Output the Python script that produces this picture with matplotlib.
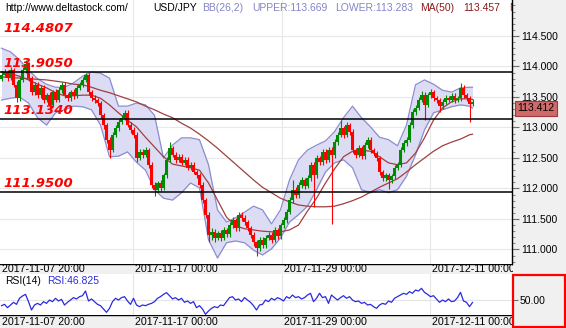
import numpy as np
import matplotlib.pyplot as plt
from matplotlib.patches import Rectangle

plt.rcParams['font.family'] = ['Liberation Sans', 'DejaVu Sans']

# USD/JPY candles, one value per candle (open = previous close)
first_open = 113.80
closes = [113.86, 113.91, 113.81, 113.94, 113.70, 113.48, 113.78, 113.94, 114.04, 113.81,
          113.58, 113.70, 113.53, 113.65, 113.45, 113.53, 113.37, 113.58, 113.45, 113.61,
          113.70, 113.53, 113.48, 113.58, 113.52, 113.65, 113.70, 113.78, 113.86, 113.58,
          113.48, 113.45, 113.40, 113.20, 113.04, 112.80, 112.63, 112.88, 112.99, 113.09,
          113.16, 113.24, 113.04, 112.96, 112.88, 112.50, 112.60, 112.55, 112.63, 112.39,
          112.06, 111.98, 112.09, 112.01, 112.22, 112.47, 112.66, 112.55, 112.47, 112.52,
          112.42, 112.47, 112.34, 112.39, 112.27, 112.22, 112.06, 111.81, 111.57, 111.24,
          111.29, 111.19, 111.27, 111.19, 111.32, 111.25, 111.40, 111.48, 111.35, 111.57,
          111.52, 111.45, 111.35, 111.24, 111.12, 111.02, 111.16, 111.07, 111.19, 111.24,
          111.16, 111.32, 111.22, 111.40, 111.48, 111.62, 111.81, 111.98, 111.89, 112.06,
          112.14, 112.04, 112.17, 112.39, 112.22, 112.50, 112.43, 112.60, 112.47, 112.63,
          112.55, 112.76, 112.88, 112.99, 112.88, 113.04, 112.93, 112.63, 112.55, 112.66,
          112.53, 112.71, 112.80, 112.63, 112.58, 112.50, 112.27, 112.17, 112.22, 112.14,
          112.20, 112.34, 112.39, 112.63, 112.75, 112.80, 113.04, 113.25, 113.32, 113.45,
          113.53, 113.37, 113.53, 113.58, 113.48, 113.45, 113.35, 113.42, 113.48, 113.45,
          113.52, 113.45, 113.48, 113.65, 113.53, 113.48, 113.39, 113.42]
highs = [113.92, 113.96, 113.95, 113.99, 113.98, 113.76, 113.83, 113.99, 114.10, 114.07,
         113.85, 113.74, 113.75, 113.69, 113.70, 113.57, 113.58, 113.62, 113.63, 113.66,
         113.75, 113.74, 113.57, 113.62, 113.63, 113.69, 113.75, 113.82, 113.90, 113.89,
         113.62, 113.53, 113.49, 113.44, 113.24, 113.08, 112.84, 112.92, 113.04, 113.14,
         113.21, 113.28, 113.28, 113.09, 113.00, 112.92, 112.65, 112.64, 112.68, 112.67,
         112.43, 112.10, 112.13, 112.14, 112.26, 112.51, 112.76, 112.70, 112.59, 112.56,
         112.56, 112.51, 112.52, 112.43, 112.43, 112.31, 112.26, 112.10, 111.85, 111.61,
         111.36, 111.33, 111.31, 111.32, 111.37, 111.36, 111.45, 111.54, 111.52, 111.62,
         111.62, 111.56, 111.49, 111.39, 111.28, 111.16, 111.21, 111.20, 111.23, 111.29,
         111.28, 111.37, 111.36, 111.44, 111.53, 111.67, 111.86, 112.14, 112.03, 112.11,
         112.19, 112.18, 112.22, 112.44, 112.43, 112.55, 112.54, 112.65, 112.64, 112.68,
         112.68, 112.81, 112.93, 113.12, 113.03, 113.09, 113.08, 112.97, 112.67, 112.71,
         112.70, 112.76, 112.85, 112.84, 112.67, 112.62, 112.54, 112.31, 112.26, 112.26,
         112.24, 112.38, 112.44, 112.68, 112.80, 112.85, 113.09, 113.30, 113.37, 113.50,
         113.60, 113.58, 113.57, 113.63, 113.62, 113.52, 113.49, 113.46, 113.53, 113.52,
         113.56, 113.57, 113.52, 113.73, 113.69, 113.57, 113.52, 113.46]
lows = [113.76, 113.82, 113.76, 113.78, 113.66, 113.42, 113.44, 113.74, 113.90, 113.77,
        113.54, 113.54, 113.49, 113.49, 113.40, 113.41, 113.30, 113.33, 113.41, 113.42,
        113.57, 113.49, 113.44, 113.44, 113.47, 113.48, 113.61, 113.66, 113.74, 113.54,
        113.43, 113.40, 113.35, 113.15, 112.98, 112.74, 112.50, 112.59, 112.84, 112.94,
        113.05, 113.12, 113.00, 112.91, 112.83, 112.44, 112.46, 112.50, 112.51, 112.33,
        112.00, 111.88, 111.94, 111.96, 111.97, 112.18, 112.43, 112.51, 112.42, 112.43,
        112.38, 112.38, 112.30, 112.30, 112.23, 112.17, 112.01, 111.76, 111.52, 111.12,
        111.16, 111.12, 111.15, 111.14, 111.15, 111.20, 111.21, 111.36, 111.30, 111.31,
        111.47, 111.40, 111.30, 111.19, 111.06, 110.89, 110.97, 111.02, 111.03, 111.15,
        111.11, 111.12, 111.17, 111.18, 111.36, 111.44, 111.58, 111.77, 111.84, 111.85,
        112.01, 111.99, 112.00, 112.13, 111.70, 112.18, 112.38, 112.39, 112.42, 112.43,
        111.41, 112.50, 112.72, 112.84, 112.83, 112.84, 112.88, 112.58, 112.50, 112.51,
        112.48, 112.49, 112.66, 112.58, 112.53, 112.45, 112.22, 112.12, 112.13, 111.99,
        112.09, 112.16, 112.30, 112.35, 112.59, 112.70, 112.76, 112.99, 113.20, 113.28,
        113.41, 113.12, 113.33, 113.49, 113.44, 113.40, 113.25, 113.31, 113.38, 113.41,
        113.41, 113.40, 113.41, 113.44, 113.49, 113.44, 113.09, 113.36]

# indicator lines, sampled every third candle
band_idx = list(range(0, 157, 3)) + [157]
bb_upper = [114.30, 114.24, 114.11, 113.94, 113.80, 113.71, 113.66, 113.66, 113.73, 113.84,
            113.91, 113.89, 113.81, 113.35, 113.35, 113.40, 113.37, 113.20, 112.50, 112.71,
            112.83, 112.83, 112.80, 112.39, 111.65, 111.45, 111.52, 111.61, 111.71, 111.65,
            111.42, 111.65, 112.14, 112.47, 112.63, 112.71, 112.78, 112.93, 113.16, 113.35,
            113.16, 113.01, 112.84, 112.80, 112.70, 113.04, 113.70, 113.78, 113.71, 113.61,
            113.58, 113.65, 113.66, 113.66]
bb_lower = [113.45, 113.48, 113.50, 113.40, 113.16, 113.04, 113.24, 113.29, 113.35, 113.34,
            113.29, 113.04, 112.52, 112.53, 112.60, 112.43, 112.30, 111.98, 111.84, 111.81,
            111.93, 112.09, 112.01, 111.16, 110.86, 111.11, 111.14, 111.11, 110.99, 110.91,
            111.01, 111.19, 111.45, 111.57, 111.71, 111.98, 112.27, 112.42, 112.47, 112.34,
            111.98, 111.93, 111.98, 111.93, 111.98, 112.20, 112.55, 112.96, 113.24, 113.29,
            113.34, 113.37, 113.35, 113.32]
ma50 = [113.91, 113.88, 113.84, 113.78, 113.71, 113.65, 113.57, 113.52, 113.52, 113.53,
        113.53, 113.48, 113.37, 113.24, 113.12, 113.01, 112.84, 112.68, 112.52, 112.40,
        112.37, 112.34, 112.30, 112.09, 111.81, 111.53, 111.39, 111.34, 111.32, 111.30,
        111.29, 111.29, 111.32, 111.40, 111.63, 111.84, 112.09, 112.32, 112.52, 112.61,
        112.63, 112.61, 112.52, 112.42, 112.39, 112.42, 112.58, 112.83, 113.12, 113.32,
        113.42, 113.47, 113.47, 113.46]
ma200 = [113.83, 113.82, 113.81, 113.80, 113.79, 113.78, 113.76, 113.74, 113.71, 113.70,
         113.66, 113.61, 113.57, 113.52, 113.47, 113.42, 113.35, 113.29, 113.22, 113.16,
         113.07, 112.99, 112.89, 112.78, 112.66, 112.53, 112.40, 112.27, 112.14, 112.02,
         111.93, 111.84, 111.78, 111.73, 111.71, 111.70, 111.70, 111.71, 111.75, 111.80,
         111.86, 111.94, 112.02, 112.09, 112.16, 112.27, 112.39, 112.50, 112.61, 112.70,
         112.76, 112.81, 112.88, 112.89]

rsi = [42.5, 44.3, 39.8, 43.4, 47.0, 44.3, 52.4, 55.5, 57.7, 47.9,
       36.7, 43.4, 45.6, 43.4, 47.9, 45.6, 50.1, 47.9, 52.4, 48.8,
       51.0, 43.4, 47.0, 50.1, 53.3, 51.5, 54.6, 55.9, 62.2, 48.8,
       51.5, 47.9, 44.3, 42.5, 38.0, 33.6, 38.9, 47.9, 52.4, 50.1,
       53.3, 54.6, 48.8, 44.3, 52.4, 43.4, 41.2, 43.4, 42.5, 44.3,
       45.6, 47.9, 52.4, 54.6, 57.7, 60.0, 55.9, 51.5, 53.3, 50.1,
       52.4, 47.0, 48.8, 45.6, 47.9, 39.8, 42.5, 38.0, 30.9, 35.4,
       38.9, 41.2, 39.8, 43.4, 42.5, 47.9, 53.3, 54.6, 50.1, 51.5,
       47.9, 53.3, 50.1, 47.0, 42.5, 36.7, 43.4, 44.3, 50.1, 47.9,
       52.4, 50.1, 53.3, 51.5, 48.8, 54.6, 52.4, 56.8, 53.3, 54.6,
       51.5, 53.3, 56.8, 59.1, 47.9, 52.4, 59.1, 53.3, 54.6, 45.6,
       56.8, 53.3, 50.1, 53.3, 55.9, 52.4, 54.6, 50.1, 47.9, 48.8,
       45.6, 47.0, 43.4, 44.3, 41.2, 38.9, 43.4, 45.6, 44.3, 48.8,
       47.0, 52.4, 54.6, 56.8, 59.1, 57.7, 61.3, 59.1, 63.5, 62.2,
       65.8, 60.4, 57.7, 54.6, 55.9, 51.5, 47.0, 50.1, 47.9, 51.5,
       47.9, 48.8, 53.3, 60.4, 48.8, 47.0, 41.2, 46.8]

levels = [114.4807, 113.9050, 113.1340, 111.9500]
level_lines = [113.9050, 113.1340, 111.9500]
price_ticks = [111.0, 111.5, 112.0, 112.5, 113.0, 113.5, 114.0, 114.5]
last_price = 113.412
grid_pos = [43.8, 93.5, 142.8]
date_pos = [-0.5, 43.8, 93.5, 142.8]
date_labels = ['2017-11-07 20:00', '2017-11-17 00:00', '2017-11-29 00:00', '2017-12-11 00:00']

W, H = 566, 328
fig = plt.figure(figsize=(W / 100, H / 100), dpi=100)
fig.patch.set_facecolor('#f0f0f0')


def panel(x0, y0, x1, y1, z):
    # pixel box, y measured from the top
    return fig.add_axes([x0 / W, 1 - y1 / H, (x1 - x0) / W, (y1 - y0) / H], zorder=z)


def hdr(a, xp, yp, s, size=7.5, **kw):
    # text placed in pixels from the axes' top-left corner
    h = a.bbox.height
    a.annotate(s, xy=(xp, h - yp), xycoords='axes pixels', ha='left', va='center',
               fontsize=size, annotation_clip=False, **kw)


XLIM = (-0.5, (512 - 1.5) / 3)

# main price panel
ax = panel(0, 0, 512, 264, 2)
ax.set_facecolor('white')
ax.set_xlim(*XLIM)
ax.set_ylim(110.762, 115.09)
for p in price_ticks:
    ax.axhline(p, color='#e8e8e8', lw=0.8, zorder=0)
for g in grid_pos:
    ax.axvline(g, color='#e8e8e8', lw=0.8, zorder=0)

ax.fill_between(band_idx, bb_lower, bb_upper, color='#dcdcf4', lw=0, zorder=1)
ax.plot(band_idx, bb_upper, color='#8c8cd0', lw=0.9, zorder=1.5)
ax.plot(band_idx, bb_lower, color='#8c8cd0', lw=0.9, zorder=1.5)
ax.plot(band_idx, ma50, color='#a04040', lw=0.9, zorder=2)
ax.plot(band_idx, ma200, color='#a04040', lw=0.9, zorder=2)

n = len(closes)
x = np.arange(n)
c = np.array(closes)
o = np.r_[first_open, c[:-1]]
colors = np.where(c >= o, '#008a00', '#ff0000')
ax.vlines(x, lows, highs, colors=colors, lw=0.8, zorder=3)
ax.bar(x, np.maximum(np.abs(c - o), 0.01), bottom=np.minimum(o, c), width=0.75,
       color=colors, lw=0, zorder=3)

for lv in level_lines:
    ax.axhline(lv, color='black', lw=1.1, zorder=4)
for lv in levels:
    ax.annotate(f'{lv:.4f}', xy=(0, lv), xycoords=('axes fraction', 'data'),
                xytext=(3, 2), textcoords='offset pixels', ha='left', va='bottom',
                color='#ff0000', fontsize=9.5, fontweight='bold', fontstyle='italic',
                family='DejaVu Sans', zorder=5)

for s in ('top', 'left', 'bottom'):
    ax.spines[s].set_visible(False)
ax.spines['right'].set_color('black')
ax.spines['right'].set_linewidth(1)
ax.set_xticks([])
ax.yaxis.tick_right()
ax.set_yticks(price_ticks, labels=[f'{p:.3f}' for p in price_ticks])
ax.set_yticks(np.arange(110.8, 115.1, 0.1), minor=True)
ax.tick_params(axis='y', which='major', length=5, width=0.8, color='#707070',
               labelsize=7.5, pad=1.5)
ax.tick_params(axis='y', which='minor', length=2.5, width=0.8, color='#909090')

ax.annotate(f'{last_price:.3f}', xy=(1, last_price), xycoords=('axes fraction', 'data'),
            xytext=(24, -6), textcoords='offset pixels', ha='center', va='center',
            fontsize=7.5, annotation_clip=False, zorder=6,
            bbox=dict(boxstyle='square,pad=0.25', fc='#d06a6a', ec='#a03a3a', lw=0.8))

hdr(ax, 5, 8, 'http://www.deltastock.com/', color='black')
hdr(ax, 153, 8, 'USD/JPY', color='black')
hdr(ax, 202, 8, 'BB(26,2)', color='#8484c8')
hdr(ax, 252, 8, 'UPPER:113.669', color='#8484c8')
hdr(ax, 335, 8, 'LOWER:113.283', color='#8484c8')
hdr(ax, 420, 8, 'MA(50)', color='#8b1a1a')
hdr(ax, 463, 8, '113.457', color='#8b1a1a')
ax.annotate('MA(200)', xy=(509, 264 - 8), xycoords='axes pixels', ha='left', va='center',
            fontsize=7.5, color='#cc0000', clip_on=True)

# RSI panel
rax = panel(0, 274, 512, 315, 2)
rax.set_facecolor('white')
rax.set_xlim(*XLIM)
rax.set_ylim(30, 85)
rax.axhline(50, color='#e4e4e4', lw=0.8, zorder=0)
for g in grid_pos:
    rax.axvline(g, color='#e4e4e4', lw=0.8, zorder=0)
rax.plot(np.arange(len(rsi)), rsi, color='#2a2ae0', lw=0.9)
for s in rax.spines.values():
    s.set_visible(False)
rax.set_xticks([])
rax.yaxis.tick_right()
rax.set_yticks([50], labels=['50.00'])
rax.tick_params(axis='y', length=4, width=0.8, color='#707070', labelsize=7.5, pad=1.5)
hdr(rax, 5, 7, 'RSI(14)', color='black')
hdr(rax, 47, 7, 'RSI:46.825', color='#2a2ae0')

# date strips
for y0, y1 in ((264, 274), (315, 328)):
    st = panel(0, y0, 512, y1, 0)
    st.set_facecolor('#f0f0f0')
    st.set_xlim(*XLIM)
    st.set_ylim(0, 1)
    st.set_xticks([])
    st.set_yticks([])
    for s in ('left', 'right', 'bottom'):
        st.spines[s].set_visible(False)
    st.spines['top'].set_linewidth(1)
    for pos, lab in zip(date_pos, date_labels):
        st.annotate(lab, xy=(pos, 0.5), xycoords=('data', 'axes fraction'), xytext=(2, -0.5),
                    textcoords='offset pixels', ha='left', va='center', fontsize=7.7,
                    annotation_clip=False)

# right scale background, drawn over any date text that runs past the chart
cover = panel(512.5, 264, 566, 328, 1)
cover.set_facecolor('#f0f0f0')
cover.set_xticks([])
cover.set_yticks([])
for s in cover.spines.values():
    s.set_visible(False)

fig.add_artist(Rectangle((513 / W, 1 - 327 / H), 52 / W, 52 / H, transform=fig.transFigure,
                         fill=False, edgecolor='#ff0000', lw=1.6, zorder=5))

fig.savefig('out.png', dpi=100, facecolor=fig.get_facecolor())
